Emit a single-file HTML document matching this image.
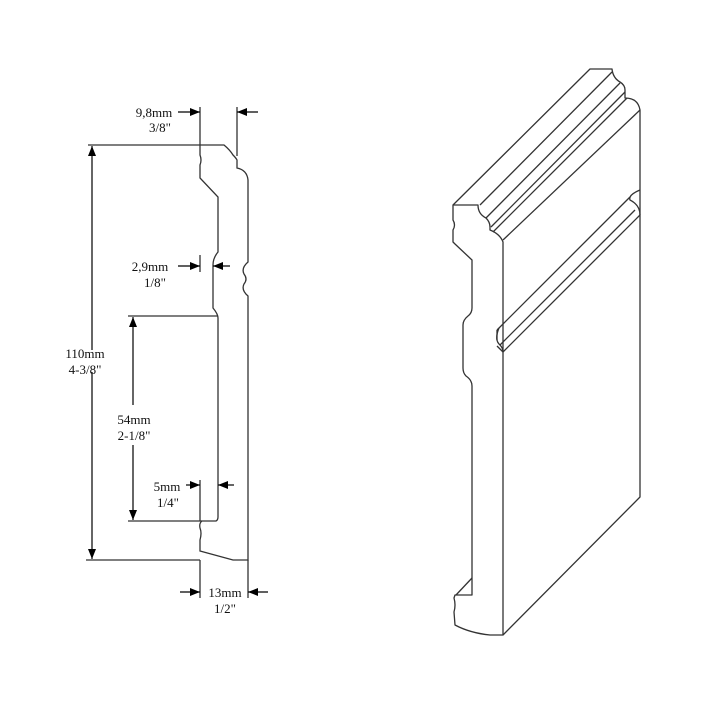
<!DOCTYPE html>
<html><head><meta charset="utf-8"><style>
html,body{margin:0;padding:0;background:#fff;width:720px;height:720px;overflow:hidden}
svg{display:block}
text{font-family:"Liberation Serif",serif;font-size:13px;fill:#111}
</style></head><body>
<svg width="720" height="720" viewBox="0 0 720 720" xmlns="http://www.w3.org/2000/svg">
<defs>
<marker id="a" markerWidth="10" markerHeight="8" refX="10" refY="4" orient="auto" markerUnits="userSpaceOnUse">
<path d="M0,0 L10,4 L0,8 Z" fill="#000"/></marker>
</defs>
<g fill="none" stroke="#333" stroke-width="1.3">
<path d="M200,145 L224,145 Q230,150 233,155 Q236,158 237,160 L237,168 Q247,170 248,180 L248,262 Q241,268 244,274 Q248,279 244,284 Q241,290 248,296 L248,560 L233,560 L200,551 L200,540 Q202,533 200,528 Q199,523 202,521 L216,521 Q218,520 218,517 L218,318 Q218,314 213,308 L213,265 Q213,258 218,252 L218,197 L200,178 L200,165 Q202,160 200,155 Z"/>
<path d="M200,107 L200,145 M237,107 L237,156 M88,145 L200,145 M86,560 L200,560 M200,255 L200,272 M128,316 L218,316 M128,521 L202,521 M200,480 L200,521 M200,560 L200,598 M248,560 L248,598"/>
</g>
<g stroke="#000" stroke-width="1.2" fill="none">
<line x1="178" y1="112" x2="200" y2="112" marker-end="url(#a)"/>
<line x1="258" y1="112" x2="237" y2="112" marker-end="url(#a)"/>
<line x1="92" y1="350" x2="92" y2="146" marker-end="url(#a)"/>
<line x1="92" y1="372" x2="92" y2="559" marker-end="url(#a)"/>
<line x1="133" y1="405" x2="133" y2="317" marker-end="url(#a)"/>
<line x1="133" y1="445" x2="133" y2="520" marker-end="url(#a)"/>
<line x1="178" y1="266" x2="200" y2="266" marker-end="url(#a)"/>
<line x1="230" y1="266" x2="213" y2="266" marker-end="url(#a)"/>
<line x1="186" y1="485" x2="200" y2="485" marker-end="url(#a)"/>
<line x1="234" y1="485" x2="218" y2="485" marker-end="url(#a)"/>
<line x1="180" y1="592" x2="200" y2="592" marker-end="url(#a)"/>
<line x1="268" y1="592" x2="248" y2="592" marker-end="url(#a)"/>
</g>
<text x="154" y="117" text-anchor="middle">9,8mm</text>
<text x="160" y="132" text-anchor="middle">3/8"</text>
<text x="150" y="271" text-anchor="middle">2,9mm</text>
<text x="155" y="287" text-anchor="middle">1/8"</text>
<text x="85" y="358" text-anchor="middle">110mm</text>
<text x="85" y="374" text-anchor="middle">4-3/8"</text>
<text x="134" y="424" text-anchor="middle">54mm</text>
<text x="134" y="440" text-anchor="middle">2-1/8"</text>
<text x="167" y="491" text-anchor="middle">5mm</text>
<text x="168" y="507" text-anchor="middle">1/4"</text>
<text x="225" y="597" text-anchor="middle">13mm</text>
<text x="225" y="613" text-anchor="middle">1/2"</text>
<g fill="none" stroke="#333" stroke-width="1.3" stroke-linejoin="round">
<path d="M453,205 L478,205 Q478,214 486,218 Q490,222 490,227 L490,230 Q500,234 503,242 L503,635 L490,635 Q470,633 455,625 L454,612 Q456,605 454,598 L455,595 L472,595 L472,386 Q472,380 466,376 Q463,373 463,368 L463,325 Q463,320 468,316 Q472,313 472,308 L472,260 L455,244 L453,242 L453,230 Q456,225 453,220 Z"/>
<path d="M472,578 L456,595"/>
<path d="M453,205 L590,69 L612,69 Q613,78 620,82 Q625,85 625,90 L625,98 Q638,98 640,110 L640,497 L503,635"/>
<path d="M480,205 L612,72"/>
<path d="M486,218 L620,83"/>
<path d="M491,227 L625,92"/>
<path d="M493,232 L627,98"/>
<path d="M503,240 L640,110"/>
<path d="M640,190 Q628,195 630,200 Q640,205 640,215"/>
<path d="M497,330 L630,197"/>
<path d="M499,328 Q494,340 500,345 Q503,348 503,352"/>
<path d="M500,345 L635,210"/>
<path d="M503,352 L640,215"/>
<path d="M497,346 L503,352"/>
<path d="M497,330 L497,340"/>
</g>
</svg>
</body></html>
